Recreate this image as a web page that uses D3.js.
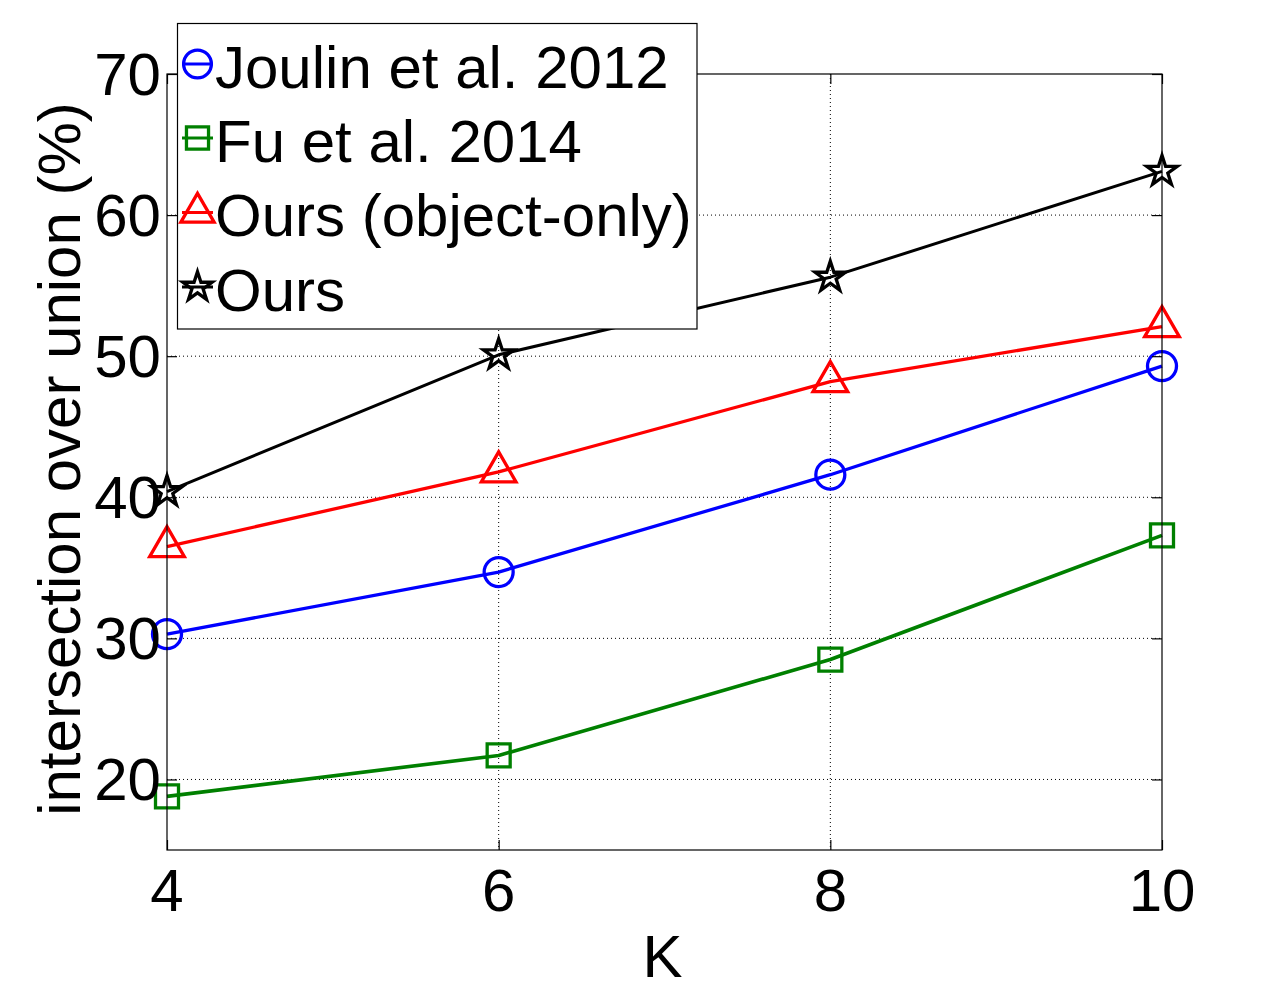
<!DOCTYPE html>
<html>
<head>
<meta charset="utf-8">
<script src="https://cdn.jsdelivr.net/npm/d3@7"></script>
<style>
  html, body { margin: 0; padding: 0; background: #fff; }
  svg { display: block; }
  text { font-family: "Liberation Sans", Arial, Helvetica, sans-serif; fill: #000; }
</style>
</head>
<body>
<svg id="chart" width="1284" height="993"></svg>
<script>
// ---- data ----
const kValues = [4, 6, 8, 10];
const joulin2012 = [30.3, 34.7, 41.6, 49.3];
const fu2014 = [18.8, 21.7, 28.5, 37.3];
const oursObjectOnly = [36.5, 41.8, 48.2, 52.1];
const ours = [40.4, 50.1, 55.6, 63.1];
const xTicks = [4, 6, 8, 10];
const yTicks = [20, 30, 40, 50, 60, 70];
const seriesNames = ["Joulin et al. 2012", "Fu et al. 2014", "Ours (object-only)", "Ours"];
const xLabel = "K";
const yLabel = "intersection over union (%)";

(function () {
// ---- styles ----
const seriesStyle = [
  { color: "#0000ff", symbol: d3.symbolCircle, size: Math.PI * 14.5 * 14.5, lw: 3.3 },
  { color: "#008000", symbol: d3.symbolSquare, size: 23 * 23, lw: 3.6 },
  { color: "#ff0000", symbol: d3.symbolTriangle, size: 100 * 3 * Math.sqrt(3), lw: 3.3 },
  { color: "#000000", symbol: d3.symbolStar, size: 16 * 16 / 0.8908130915292852, lw: 3 }
];
const seriesData = [joulin2012, fu2014, oursObjectOnly, ours];

const svg = d3.select("#chart");
const pL = 167, pR = 1162, pT = 74, pB = 850;
const x = d3.scaleLinear().domain([4, 10]).range([pL, pR]);
const y = d3.scaleLinear().domain([15, 70]).range([pB, pT]);
const fontSize = 60;

// grid
const grid = svg.append("g");
grid.selectAll("line.gx").data(xTicks.filter(t => t > 4 && t < 10)).enter().append("line")
  .attr("x1", d => x(d)).attr("x2", d => x(d)).attr("y1", pT).attr("y2", pB)
  .attr("stroke", "#000").attr("stroke-width", 1).attr("stroke-dasharray", "1,3");
grid.selectAll("line.gy").data(yTicks.filter(t => t < 70)).enter().append("line")
  .attr("y1", d => y(d)).attr("y2", d => y(d)).attr("x1", pL).attr("x2", pR)
  .attr("stroke", "#000").attr("stroke-width", 1).attr("stroke-dasharray", "1,3");

// series lines
const line = d3.line().x((d, i) => x(kValues[i])).y(d => y(d));
seriesData.forEach((vals, si) => {
  svg.append("path").datum(vals)
    .attr("d", line).attr("fill", "none")
    .attr("stroke", seriesStyle[si].color).attr("stroke-width", seriesStyle[si].lw)
    .attr("stroke-linejoin", "round");
});
// markers
seriesData.forEach((vals, si) => {
  const st = seriesStyle[si];
  svg.append("g").selectAll("path").data(vals).enter().append("path")
    .attr("d", d3.symbol().type(st.symbol).size(st.size))
    .attr("transform", (d, i) => `translate(${x(kValues[i])},${y(d)})`)
    .attr("fill", "none").attr("stroke", st.color).attr("stroke-width", 3.3);
});

// axes box and ticks (inward, on all sides)
svg.append("rect").attr("x", pL).attr("y", pT)
  .attr("width", pR - pL).attr("height", pB - pT)
  .attr("fill", "none").attr("stroke", "#000").attr("stroke-width", 1.2);
const tickLen = 10;
const bottomAxis = d3.axisBottom(x).tickValues(xTicks).tickSize(-tickLen).tickFormat("");
const topAxis = d3.axisTop(x).tickValues(xTicks).tickSize(-tickLen).tickFormat("");
const leftAxis = d3.axisLeft(y).tickValues(yTicks).tickSize(-tickLen).tickFormat("");
const rightAxis = d3.axisRight(y).tickValues(yTicks).tickSize(-tickLen).tickFormat("");
[[bottomAxis, `translate(0,${pB})`], [topAxis, `translate(0,${pT})`],
 [leftAxis, `translate(${pL},0)`], [rightAxis, `translate(${pR},0)`]].forEach(([ax, tr]) => {
  const g = svg.append("g").attr("transform", tr).call(ax);
  g.select(".domain").remove();
  g.selectAll("line").attr("stroke", "#000").attr("stroke-width", 1.2);
});

// tick labels
svg.append("g").selectAll("text").data(xTicks).enter().append("text")
  .attr("x", d => x(d)).attr("y", 911).attr("text-anchor", "middle")
  .attr("font-size", fontSize).text(d => d);
svg.append("g").selectAll("text").data(yTicks).enter().append("text")
  .attr("x", 161).attr("y", d => y(d)).attr("dy", "0.35em").attr("text-anchor", "end")
  .attr("font-size", fontSize).text(d => d);

// axis labels
svg.append("text").attr("x", (pL + pR) / 2 - 2).attr("y", 977)
  .attr("text-anchor", "middle").attr("font-size", fontSize).text(xLabel);
svg.append("text").attr("transform", `translate(80,${(pT + pB) / 2 - 3}) rotate(-90)`)
  .attr("text-anchor", "middle").attr("font-size", fontSize).text(yLabel);

// legend
const lg = svg.append("g");
lg.append("rect").attr("x", 177.5).attr("y", 23.5).attr("width", 519.5).attr("height", 305.5)
  .attr("fill", "#fff").attr("stroke", "#000").attr("stroke-width", 1.2);
const rowY = [64, 138, 212.5, 287];
seriesNames.forEach((name, i) => {
  const st = seriesStyle[i];
  lg.append("line").attr("x1", 182).attr("x2", 213).attr("y1", rowY[i]).attr("y2", rowY[i])
    .attr("stroke", st.color).attr("stroke-width", 3);
  lg.append("path").attr("d", d3.symbol().type(st.symbol).size(st.size * 0.92))
    .attr("transform", `translate(197.5,${rowY[i]})`)
    .attr("fill", "none").attr("stroke", st.color).attr("stroke-width", 3.3);
  lg.append("text").attr("x", 215).attr("y", rowY[i] + 23.5)
    .attr("font-size", fontSize).text(name);
});
})();
</script>
</body>
</html>
